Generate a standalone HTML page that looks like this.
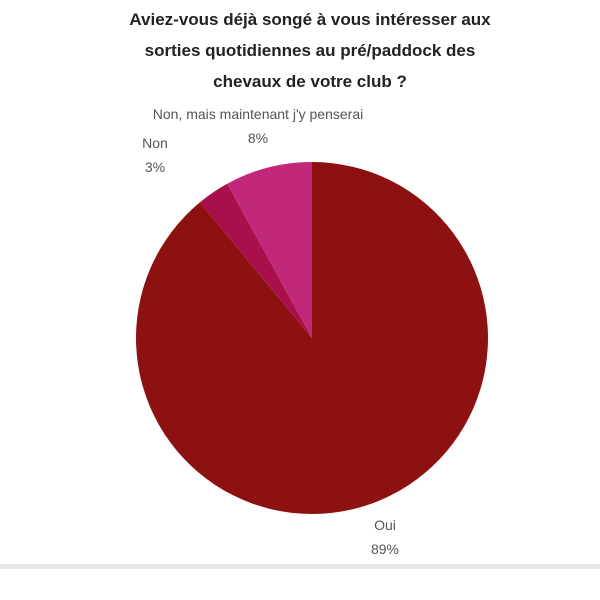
<!DOCTYPE html>
<html><head><meta charset="utf-8"><style>
html,body{margin:0;padding:0;background:#fff;width:600px;height:600px;overflow:hidden}
svg{display:block;font-family:"Liberation Sans",sans-serif}
</style></head><body>
<svg id="chart" width="600" height="600">
<g font-weight="bold" font-size="17" fill="#222" text-anchor="middle">
<text x="310" y="25">Aviez-vous déjà songé à vous intéresser aux</text>
<text x="310" y="56">sorties quotidiennes au pré/paddock des</text>
<text x="310" y="87">chevaux de votre club ?</text>
</g>
<g id="slices"></g>
<g id="labels" font-size="14" fill="#555" text-anchor="middle"></g>
<rect x="0" y="564" width="600" height="5" fill="#e4e6ea"/>
</svg>
<script>
const categories=["Oui","Non","Non, mais maintenant j'y penserais"];
const labelsText=["Oui","Non","Non, mais maintenant j'y penserai"];
const values=[89,3,8];
const colors=["#8e1111","#a90f4a","#c2287a"];
const labelPos=[[385,530],[155,148],[258,119]];
const cx=312,cy=338,r=176;
const total=values.reduce((a,b)=>a+b,0);
const ns="http://www.w3.org/2000/svg";
const gs=document.getElementById('slices'),gl=document.getElementById('labels');
let a0=0;
values.forEach((v,i)=>{
  const a1=a0+v/total*2*Math.PI;
  const x0=cx+r*Math.sin(a0),y0=cy-r*Math.cos(a0),x1=cx+r*Math.sin(a1),y1=cy-r*Math.cos(a1);
  const p=document.createElementNS(ns,'path');
  p.setAttribute('d',`M${cx},${cy}L${x0},${y0}A${r},${r} 0 ${a1-a0>Math.PI?1:0} 1 ${x1},${y1}Z`);
  p.setAttribute('fill',colors[i]);
  
  
  gs.appendChild(p);
  const g=document.createElementNS(ns,'g');
  
  
  const [lx,ly]=labelPos[i];
  const t1=document.createElementNS(ns,'text');t1.setAttribute('x',lx);t1.setAttribute('y',ly);t1.textContent=labelsText[i];
  const t2=document.createElementNS(ns,'text');t2.setAttribute('x',lx);t2.setAttribute('y',ly+24);t2.textContent=Math.round(v/total*100)+'%';
  g.appendChild(t1);g.appendChild(t2);gl.appendChild(g);
  a0=a1;
});
</script>
</body></html>
